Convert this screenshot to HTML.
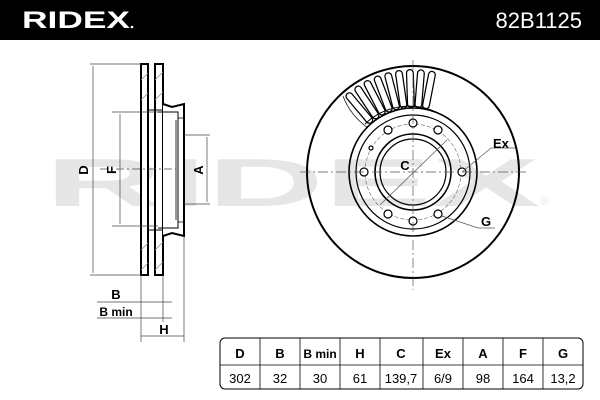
<!DOCTYPE html>
<html><head><style>
html,body{margin:0;padding:0;background:#fff;}
svg{display:block;font-family:"Liberation Sans",sans-serif;}
</style></head><body>
<svg width="600" height="400" viewBox="0 0 600 400" xmlns="http://www.w3.org/2000/svg">
<rect x="0" y="0" width="600" height="40" fill="#000"/>
<text x="22" y="28" fill="#fff" font-size="24" font-weight="bold" textLength="108" lengthAdjust="spacingAndGlyphs">RIDEX</text>
<circle cx="132" cy="27" r="1.3" fill="#fff"/>
<text x="582" y="28" fill="#fff" font-size="22" text-anchor="end">82B1125</text>
<!-- watermark -->
<text x="45" y="206" fill="#e6e6e6" font-size="68" font-weight="bold" textLength="495" lengthAdjust="spacingAndGlyphs">RIDEX</text>
<text x="540" y="205" fill="#e6e6e6" font-size="12">®</text>

<!-- side view -->
<g stroke="#000" fill="none">
<rect x="141" y="64" width="7" height="211" stroke-width="2" fill="#fff"/>
<rect x="155" y="64" width="8" height="211" stroke-width="2" fill="#fff"/>
<path d="M163 104 L172 107 L184 104 L184 236 L172 233 L163 236" stroke-width="2" fill="#fff"/>
<path d="M148 110 H163 M148 230 H163 M158 112 H178 V228 H158" stroke-width="1"/>
<path d="M178 118 L184 118 M178 222 L184 222 M176 120 V220" stroke-width="0.8"/>
<g stroke="#888" stroke-width="0.7">
<line x1="141" y1="80" x2="148" y2="73"/><line x1="141" y1="100" x2="148" y2="93"/><line x1="141" y1="250" x2="148" y2="243"/><line x1="141" y1="270" x2="148" y2="263"/>
<line x1="155" y1="80" x2="163" y2="72"/><line x1="155" y1="100" x2="163" y2="92"/><line x1="155" y1="250" x2="163" y2="242"/><line x1="155" y1="270" x2="163" y2="262"/>
</g>
</g>
<g stroke="#444" stroke-width="0.7" fill="none">
<line x1="90" y1="64" x2="141" y2="64"/><line x1="90" y1="275" x2="141" y2="275"/>
<line x1="93" y1="66" x2="93" y2="273"/>
<line x1="112" y1="112" x2="158" y2="112"/><line x1="112" y1="226" x2="158" y2="226"/>
<line x1="120" y1="114" x2="120" y2="224"/>
<line x1="184" y1="135" x2="210" y2="135"/><line x1="184" y1="204" x2="210" y2="204"/>
<line x1="207" y1="137" x2="207" y2="202"/>
<line x1="141" y1="275" x2="141" y2="342"/><line x1="163" y1="275" x2="163" y2="322"/><line x1="184" y1="236" x2="184" y2="342"/>
<line x1="97" y1="302" x2="172" y2="302"/><line x1="97" y1="318" x2="172" y2="318"/>
<line x1="141" y1="336" x2="184" y2="336"/>
<line x1="100" y1="169" x2="176" y2="169" stroke-dasharray="8 3 2 3"/>
</g>
<text x="88" y="170" font-size="13" font-weight="bold" transform="rotate(-90 88 170)" text-anchor="middle">D</text>
<text x="116" y="170" font-size="13" font-weight="bold" transform="rotate(-90 116 170)" text-anchor="middle">F</text>
<text x="203" y="170" font-size="13" font-weight="bold" transform="rotate(-90 203 170)" text-anchor="middle">A</text>
<text x="116" y="299" font-size="13" font-weight="bold" text-anchor="middle">B</text>
<text x="116" y="316" font-size="12" font-weight="bold" text-anchor="middle">B min</text>
<text x="164" y="334" font-size="13" font-weight="bold" text-anchor="middle">H</text>

<!-- front view -->
<g fill="none" stroke="#000">
<circle cx="413" cy="172" r="106" stroke-width="2"/>
<circle cx="413" cy="172" r="64" stroke-width="1.6"/>
<circle cx="413" cy="172" r="57" stroke-width="1.2"/>
<circle cx="413" cy="172" r="38" stroke-width="1.6"/>
<circle cx="413" cy="172" r="33" stroke-width="1.2"/>
<circle cx="413" cy="172" r="48" stroke="#666" stroke-width="0.6" stroke-dasharray="4 2"/>
<g stroke-width="1.2" fill="#fff">
<circle cx="413" cy="123" r="4"/><circle cx="413" cy="221" r="4"/>
<circle cx="364" cy="172" r="4"/><circle cx="462" cy="172" r="4"/>
<circle cx="388" cy="130" r="4"/><circle cx="438" cy="130" r="4"/>
<circle cx="388" cy="214" r="4"/><circle cx="438" cy="214" r="4"/>
<circle cx="371" cy="148" r="2"/>
</g>
<g stroke-linecap="round" stroke-width="8">
<line x1="349.4" y1="96.2" x2="369.3" y2="119.9"/>
<line x1="358.3" y1="89.5" x2="375.4" y2="115.4"/>
<line x1="367.6" y1="84.0" x2="381.8" y2="111.5"/>
<line x1="377.7" y1="79.5" x2="388.7" y2="108.5"/>
<line x1="388.3" y1="76.2" x2="396.0" y2="106.2"/>
<line x1="399.0" y1="74.0" x2="403.4" y2="104.7"/>
<line x1="409.9" y1="73.0" x2="410.9" y2="104.0"/>
<line x1="420.9" y1="73.3" x2="418.4" y2="104.2"/>
<line x1="431.9" y1="74.8" x2="426.0" y2="105.2"/>
</g>
<g stroke-linecap="round" stroke="#fff" stroke-width="5.5">
<line x1="349.4" y1="96.2" x2="369.3" y2="119.9"/>
<line x1="358.3" y1="89.5" x2="375.4" y2="115.4"/>
<line x1="367.6" y1="84.0" x2="381.8" y2="111.5"/>
<line x1="377.7" y1="79.5" x2="388.7" y2="108.5"/>
<line x1="388.3" y1="76.2" x2="396.0" y2="106.2"/>
<line x1="399.0" y1="74.0" x2="403.4" y2="104.7"/>
<line x1="409.9" y1="73.0" x2="410.9" y2="104.0"/>
<line x1="420.9" y1="73.3" x2="418.4" y2="104.2"/>
<line x1="431.9" y1="74.8" x2="426.0" y2="105.2"/>
</g>
<path d="M343 96 Q350 115 368 128" stroke-width="0.7"/>
<path d="M365 124 A64 64 0 0 1 436 112" stroke-width="1"/>
</g>
<g stroke="#555" stroke-width="0.7" fill="none">
<line x1="300" y1="172" x2="528" y2="172" stroke-dasharray="10 3 2 3"/>
<line x1="413" y1="60" x2="413" y2="290" stroke-dasharray="10 3 2 3"/>
<line x1="380" y1="205" x2="447" y2="140"/>
<line x1="462" y1="172" x2="491" y2="148"/><line x1="491" y1="148" x2="515" y2="148"/>
<line x1="442" y1="216" x2="478" y2="228"/><line x1="478" y1="228" x2="495" y2="228"/>
</g>
<text x="405" y="170" font-size="13" font-weight="bold" text-anchor="middle">C</text>
<text x="493" y="148" font-size="13" font-weight="bold">Ex</text>
<text x="481" y="226" font-size="13" font-weight="bold">G</text>

<!-- table -->
<rect x="220" y="338" width="363" height="51" rx="5" fill="#fff" stroke="#000" stroke-width="1"/>
<line x1="220" y1="365" x2="583" y2="365" stroke="#000" stroke-width="0.8"/>
<g stroke="#000" stroke-width="0.8">
<line x1="260" y1="338" x2="260" y2="389"/><line x1="300" y1="338" x2="300" y2="389"/><line x1="340" y1="338" x2="340" y2="389"/><line x1="380" y1="338" x2="380" y2="389"/><line x1="423" y1="338" x2="423" y2="389"/><line x1="463" y1="338" x2="463" y2="389"/><line x1="503" y1="338" x2="503" y2="389"/><line x1="543" y1="338" x2="543" y2="389"/>
</g>
<g font-size="13" font-weight="bold" text-anchor="middle">
<text x="240" y="358">D</text><text x="280" y="358">B</text><text x="320" y="358" font-size="12">B min</text><text x="360" y="358">H</text><text x="401" y="358">C</text><text x="443" y="358">Ex</text><text x="483" y="358">A</text><text x="523" y="358">F</text><text x="563" y="358">G</text>
</g>
<g font-size="13" text-anchor="middle">
<text x="240" y="383">302</text><text x="280" y="383">32</text><text x="320" y="383">30</text><text x="360" y="383">61</text><text x="401" y="383">139,7</text><text x="443" y="383">6/9</text><text x="483" y="383">98</text><text x="523" y="383">164</text><text x="563" y="383">13,2</text>
</g>
</svg>
</body></html>
